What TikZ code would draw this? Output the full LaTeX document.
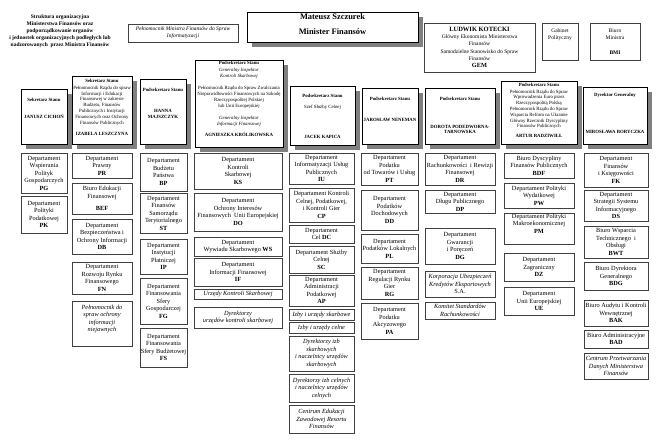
\documentclass[tikz,border=0pt]{standalone}
\usepackage{fontspec}
\setmainfont{Liberation Serif}
\usetikzlibrary{shadows}

\newcommand\fdep{\fontsize{6.3}{7.5}\selectfont}
\newcommand\fhd{\fontsize{4.8}{5.8}\selectfont}
\newcommand\fgem{\fontsize{5.5}{7.3}\selectfont}

\tikzset{
 dep/.style={draw=black!75, line width=0.9pt, fill=white, align=center, inner sep=0.5pt, font=\fdep},
 it/.style={font=\fdep\itshape},
 head/.style={draw=black, line width=0.8pt, fill=white,
   drop shadow={shadow xshift=5pt, shadow yshift=-5pt, fill=black!50, opacity=1}},
 htext/.style={align=center, inner sep=0pt, font=\fhd, anchor=north},
}

\newcommand\mkdep[7][]{\node[dep,#1, minimum width={(#5-#3)*1pt}, minimum height={(#6-#4)*1pt}] (#2) at ({(#3+#5)/2},{(#4+#6)/2}) {#7};}
\newcommand\mkhead[5]{\node[head, minimum width={(#4-#2)*1pt}, minimum height={(#5-#3)*1pt}] (#1) at ({(#2+#4)/2},{(#3+#5)/2}) {};}

\begin{document}
\begin{tikzpicture}[x=1pt,y=-1pt]
\useasboundingbox[fill=white] (0,0) rectangle (660,440);

% top
\node[font=\fontsize{5.5}{7}\selectfont\bfseries, align=center, inner sep=0pt] (title) at (60,31)
 {Struktura organizacyjna\\Ministerstwa Finansów oraz\\podporządkowanie organów\\i jednostek organizacyjnych podległych lub\\nadzorowanych\ \ przez Ministra Finansów};
\mkdep[font=\fontsize{5.5}{6.8}\selectfont\itshape]{pel}{128}{24}{238}{42}{Pełnomocnik Ministra Finansów do Spraw\\Informatyzacji}
\mkhead{min}{247}{12}{418}{42}
\node[htext, font=\fontsize{8.4}{10}\selectfont\bfseries] (mint) at (332.5,13.3) {Mateusz Szczurek\\[5pt]Minister Finansów};
\mkdep[font=\fgem]{gem}{424}{23}{535}{72}{{\fontsize{6.5}{7}\selectfont\textbf{LUDWIK KOTECKI}}\\Główny Ekonomista Ministerstwa\\Finansów\\Samodzielne Stanowisko do Spraw\\Finansów\\{\fontsize{6.3}{7}\selectfont\textbf{GEM}}}
\mkdep[font=\fgem]{gp}{542}{23}{578}{60}{Gabinet\\Polityczny\\[7pt]\mbox{}}
\mkdep[font=\fgem]{bmi}{590}{23}{640}{60}{Biuro\\Ministra\\[7pt]\textbf{BMI}}

% heads
\mkhead{h1}{21}{89}{67}{144}
\mkhead{h2}{72}{76}{132}{144}
\mkhead{h3}{140}{79}{186}{144}
\mkhead{h4}{195}{60}{283}{147}
\mkhead{h5}{290}{86}{355}{145}
\mkhead{h6}{362}{88}{418}{144}
\mkhead{h7}{425}{88}{495}{144}
\mkhead{h8}{501}{81}{577}{144}
\mkhead{h9}{583}{87}{647}{144}

\node[htext] (h1t) at (44,97.8) {\textbf{Sekretarz Stanu}\\[11.2pt]\textbf{JANUSZ CICHOŃ}};
\node[htext] (h2t) at (102,78.8) {\textbf{Sekretarz Stanu}\\[1.2pt]Pełnomocnik Rządu do spraw\\Informacji i Edukacji\\Finansowej w zakresie\\Budżetu, Finansów\\Publicznych i Instytucji\\Finansowych oraz Ochrony\\Finansów Publicznych\\[5.2pt]\textbf{IZABELA LESZCZYNA}};
\node[htext] (h3t) at (163,87.8) {\textbf{Podsekretarz Stanu}\\[15.2pt]\textbf{HANNA}\\[0.2pt]\textbf{MAJSZCZYK}};
\node[htext] (h4t) at (239,61.3) {\textbf{Podsekretarz Stanu}\\[0.7pt]\textit{Generalny Inspektor}\\\textit{Kontroli Skarbowej}\\[6.7pt]Pełnomocnik Rządu do Spraw Zwalczania\\Nieprawidłowości Finansowych na Szkodę\\Rzeczypospolitej Polskiej\\lub Unii Europejskiej\\[6.8pt]\textit{Generalny Inspektor}\\\textit{Informacji Finansowej}\\[5.4pt]\textbf{AGNIESZKA KRÓLIKOWSKA}};
\node[htext] (h5t) at (322.5,93.8) {\textbf{Podsekretarz Stanu}\\[5.2pt]Szef Służby Celnej\\[24.2pt]\textbf{JACEK KAPICA}};
\node[htext] (h6t) at (390,96.8) {\textbf{Podsekretarz Stanu}\\[15.2pt]\textbf{JAROSŁAW NENEMAN}};
\node[htext] (h7t) at (460,96.8) {\textbf{Podsekretarz Stanu}\\[21.9pt]\textbf{DOROTA PODEDWORNA-}\\[-0.8pt]\textbf{TARNOWSKA}};
\node[htext] (h8t) at (539,82.8) {\textbf{Podsekretarz Stanu}\\[0.9pt]Pełnomocnik Rządu do Spraw\\Wprowadzenia Euro przez\\Rzeczypospolitą Polską\\Pełnomocnik Rządu do Spraw\\Wsparcia Reform na Ukrainie\\Główny Rzecznik Dyscypliny\\Finansów Publicznych\\[4.2pt]\textbf{ARTUR RADZIWIŁŁ}};
\node[htext] (h9t) at (615,92.8) {\textbf{Dyrektor Generalny}\\[31.2pt]\textbf{MIROSŁAWA BORYCZKA}};

% column 1
\mkdep{pg}{21}{153}{67}{193}{Departament\\Wspierania\\Polityk\\Gospodarczych\\\textbf{PG}}
\mkdep{pk}{21}{196}{67}{233}{Departament\\Polityki\\Podatkowej\\\textbf{PK}}
% column 2
\mkdep{pr}{72}{153}{132}{178}{Departament\\Prawny\\\textbf{PR}}
\mkdep{bef}{72}{183}{132}{214}{Biuro Edukacji\\Finansowej\\[4.5pt]\textbf{BEF}}
\mkdep{db}{72}{219}{132}{254}{Departament\\Bezpieczeństwa i\\Ochrony Informacji\\\textbf{DB}}
\mkdep{fn}{72}{262}{132}{294}{Departament\\Rozwoju Rynku\\Finansowego\\\textbf{FN}}
\mkdep[it]{poin}{72}{301}{132}{346}{Pełnomocnik do\\spraw ochrony\\informacji\\niejawnych\\[3pt]\mbox{}}
% column 3
\mkdep{bp}{140}{153}{187}{191}{Departament\\Budżetu\\Państwa\\\textbf{BP}}
\mkdep{st}{140}{193}{187}{233}{Departament\\Finansów\\Samorządu\\Terytorialnego\\\textbf{ST}}
\mkdep{ip}{140}{239}{187}{274}{Departament\\Instytucji\\Płatniczej\\\textbf{IP}}
\mkdep{fg}{140}{278}{187}{324}{Departament\\Finansowania\\Sfery\\Gospodarczej\\\textbf{FG}}
\mkdep{fs}{140}{328}{187}{367}{Departament\\Finansowania\\Sfery Budżetowej\\\textbf{FS}}
% column 4
\mkdep{ks}{194}{153}{282}{189}{Departament\\Kontroli\\Skarbowej\\\textbf{KS}}
\mkdep{do}{194}{193}{282}{231}{Departament\\Ochrony Interesów\\Finansowych\ \ Unii Europejskiej\\\textbf{DO}}
\mkdep{ws}{194}{237}{282}{256}{Departament\\Wywiadu Skarbowego \textbf{WS}}
\mkdep{if}{194}{258}{282}{286}{Departament\\Informacji Finansowej\\\textbf{IF}}
\mkdep[it]{uks}{194}{289}{282}{299}{Urzędy Kontroli Skarbowej}
\mkdep[it]{duks}{194}{307}{282}{328}{Dyrektorzy\\urzędów kontroli skarbowej}
% column 5
\mkdep{iu}{289}{153}{354}{184}{Departament\\Informatyzacji Usług\\Publicznych\\\textbf{IU}}
\mkdep{cp}{289}{188}{354}{222}{Departament Kontroli\\Celnej, Podatkowej,\\i Kontroli Gier\\\textbf{CP}}
\mkdep{dc}{289}{225}{354}{243}{Departament\\Cel \textbf{DC}}
\mkdep{sc}{289}{246}{354}{273}{Departament Służby\\Celnej\\\textbf{SC}}
\mkdep{ap}{289}{275}{354}{306}{Departament\\Administracji\\Podatkowej\\\textbf{AP}}
\mkdep[it]{ius}{289}{309}{354}{320}{Izby i urzędy skarbowe}
\mkdep[it]{iuc}{289}{322}{354}{333}{Izby i urzędy celne}
\mkdep[it]{dis}{289}{336}{354}{371}{Dyrektorzy izb\\skarbowych\\i naczelnicy urzędów\\skarbowych}
\mkdep[it]{dic}{289}{374}{354}{402}{Dyrektorzy izb celnych\\i naczelnicy urzędów\\celnych}
\mkdep[it]{cez}{289}{405}{354}{433}{Centrum Edukacji\\Zawodowej Resortu\\Finansów}
% column 6
\mkdep{pt}{361}{153}{418}{185}{Departament\\Podatku\\od Towarów i Usług\\\textbf{PT}}
\mkdep{dd}{361}{190}{418}{230}{Departament\\Podatków\\Dochodowych\\\textbf{DD}}
\mkdep{pl}{361}{234}{418}{263}{Departament\\Podatków Lokalnych\\\textbf{PL}}
\mkdep{rg}{361}{267}{418}{299}{Departament\\Regulacji Rynku\\Gier\\\textbf{RG}}
\mkdep{pa}{361}{303}{418}{339}{Departament\\Podatku\\Akcyzowego\\\textbf{PA}}
% column 7
\mkdep{dr}{425}{153}{495}{185}{Departament\\Rachunkowości\ \ i Rewizji\\Finansowej\\\textbf{DR}}
\mkdep{dp}{425}{190}{495}{213}{Departament\\Długu Publicznego\\\textbf{DP}}
\mkdep{dg}{425}{228}{495}{264}{Departament\\Gwarancji\\i Poręczeń\\\textbf{DG}}
\mkdep[it]{kuke}{425}{271}{495}{297}{Korporacja Ubezpieczeń\\Kredytów Eksportowych\\\upshape S.A.}
\mkdep[it]{ksr}{425}{302}{495}{319}{Komitet Standardów\\Rachunkowości}
% column 8
\mkdep{bdf}{504}{153}{574}{178}{Biuro Dyscypliny\\Finansów Publicznych\\\textbf{BDF}}
\mkdep{pw}{504}{183}{574}{208}{Departament Polityki\\Wydatkowej\\\textbf{PW}}
\mkdep{pm}{504}{214}{574}{244}{Departament Polityki\\Makroekonomicznej\\\textbf{PM}\\[3pt]\mbox{}}
\mkdep{dz}{504}{253}{574}{281}{Departament\\Zagraniczny\\\textbf{DZ}}
\mkdep{ue}{504}{287}{574}{315}{Departament\\Unii Europejskiej\\\textbf{UE}}
% column 9
\mkdep{fk}{584}{153}{648}{187}{Departament\\Finansów\\i Księgowości\\\textbf{FK}}
\mkdep{ds}{584}{190}{648}{221}{Departament\\Strategii Systemu\\Informacyjnego\\\textbf{DS}}
\mkdep{bwt}{584}{226}{648}{258}{Biuro Wsparcia\\Technicznego\ \ i\\Obsługi\\\textbf{BWT}}
\mkdep{bdg}{584}{262}{648}{290}{Biuro Dyrektora\\Generalnego\\\textbf{BDG}}
\mkdep{bak}{584}{300}{648}{326}{Biuro Audytu i Kontroli\\Wewnętrznej\\\textbf{BAK}}
\mkdep{bad}{584}{330}{648}{348}{Biuro Administracyjne\\\textbf{BAD}}
\mkdep[it]{cpd}{584}{353}{648}{379}{Centrum Przetwarzania\\Danych Ministerstwa\\Finansów}
\end{tikzpicture}
\end{document}
